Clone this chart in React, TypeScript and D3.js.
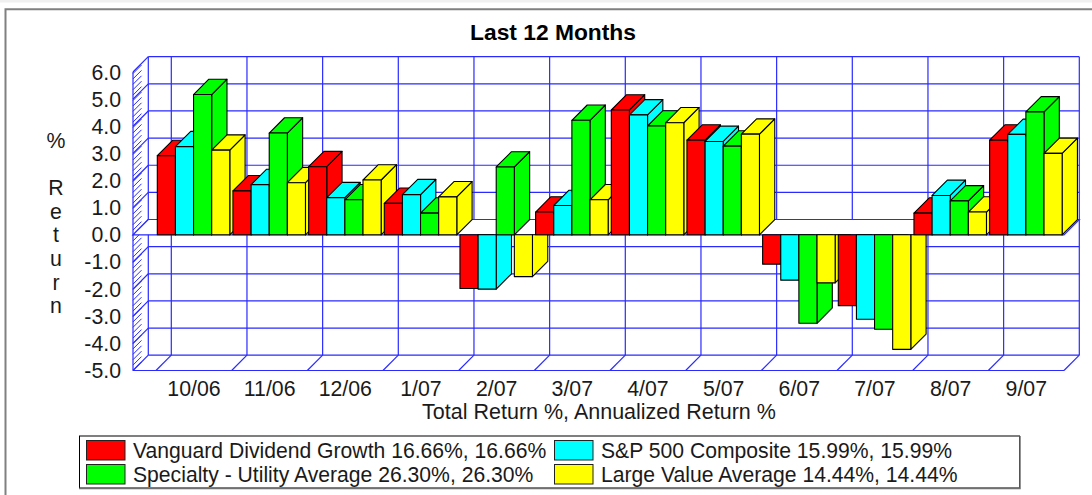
import * as d3 from 'd3';

const months = ['10/06', '11/06', '12/06', '1/07', '2/07', '3/07', '4/07', '5/07', '6/07', '7/07', '8/07', '9/07'];
const vanguard = [2.92, 1.62, 2.51, 1.16, -1.98, 0.84, 4.6, 3.49, -1.08, -2.61, 0.8, 3.49];
const sp500 = [3.25, 1.85, 1.37, 1.48, -2.0, 1.08, 4.42, 3.44, -1.67, -3.11, 1.45, 3.7];
const utility = [5.17, 3.75, 1.29, 0.8, 2.5, 4.22, 4.01, 3.27, -3.26, -3.48, 1.25, 4.53];
const largeValue = [3.12, 1.92, 2.02, 1.4, -1.54, 1.29, 4.13, 3.71, -1.77, -4.22, 0.84, 3.0];

const seriesNames = ['vanguard', 'sp500', 'utility', 'largeValue'];
const seriesValues = [vanguard, sp500, utility, largeValue];
const seriesColors = ['#ff0000', '#00ffff', '#00ff00', '#ffff00'];

const yTicks = [6, 5, 4, 3, 2, 1, 0, -1, -2, -3, -4, -5];
const yTitle = ['%', '', 'R', 'e', 't', 'u', 'r', 'n'];
const legendRows = [
  { label: 'Vanguard Dividend Growth 16.66%, 16.66%', color: '#ff0000', col: 0, row: 0 },
  { label: 'S&P 500 Composite 15.99%, 15.99%', color: '#00ffff', col: 1, row: 0 },
  { label: 'Specialty - Utility Average 26.30%, 26.30%', color: '#00ff00', col: 0, row: 1 },
  { label: 'Large Value Average 14.44%, 14.44%', color: '#ffff00', col: 1, row: 1 },
];

const FONT = '"Liberation Sans", Arial, sans-serif';
const GRID = '#2a2aff';
const DEPTH_X = 15.3;
const DEPTH_Y = 15.3;
const LEFT = 133;
const LABEL_SIZE = 21.3;
const LEGEND_SIZE = 21.15;

const y = d3.scaleLinear().domain([-5, 6]).range([370.5, 72]);
const x = d3.scaleBand<string>().domain(months).range([156, 1064]);
const inner = d3.scaleBand<string>().domain(seriesNames).range([1.3, 73.8]);

const poly = (pts: [number, number][]) => (d3.line()(pts) || '') + 'Z';

const Bar = ({ x0, w, value, fill }: { x0: number; w: number; value: number; fill: string }) => {
  const y0 = y(0);
  const yv = y(value);
  const top = Math.min(y0, yv);
  const bottom = Math.max(y0, yv);
  const dx = DEPTH_X;
  const dy = DEPTH_Y;
  // negative bars hang from the floor, so their side is cut flat at zero
  const sideTop = value > 0 ? top - dy : top;
  return (
    <g fill={fill} stroke="#000" strokeWidth={1.1} strokeLinejoin="round">
      <path d={poly([[x0 + w, top], [x0 + w + dx, sideTop], [x0 + w + dx, bottom - dy], [x0 + w, bottom]])} />
      {value > 0 && <path d={poly([[x0, top], [x0 + dx, top - dy], [x0 + w + dx, top - dy], [x0 + w, top]])} />}
      <rect x={x0} y={top} width={w} height={bottom - top} />
    </g>
  );
};

export default function App() {
  const right = x.range()[1];
  const hatch = d3.range(y(-5), y(6) + 1, -5.4);

  return (
    <svg
      width={1092}
      height={495}
      style={{ position: 'absolute', left: 0, top: 0, background: '#fff' }}
      fontFamily={FONT}
      fill="#1a1a1a"
    >
      <rect x={0} y={0} width={1092} height={2.5} fill="#f0f0f0" />
      <path d="M1092,9.2H5.5V495" fill="none" stroke="#808080" strokeWidth={2} />

      <text x={553} y={40} textAnchor="middle" fontSize={22.8} fontWeight={700} fill="#000">Last 12 Months</text>

      {/* back wall */}
      <g stroke={GRID} strokeWidth={1.2} fill="none">
        {yTicks.map(t => (
          <g key={t}>
            <line x1={LEFT} x2={LEFT + DEPTH_X} y1={y(t)} y2={y(t) - DEPTH_Y} />
            <line x1={LEFT + DEPTH_X} x2={right + DEPTH_X} y1={y(t) - DEPTH_Y} y2={y(t) - DEPTH_Y} />
          </g>
        ))}
        <line x1={LEFT + DEPTH_X} x2={LEFT + DEPTH_X} y1={y(6) - DEPTH_Y} y2={y(-5) - DEPTH_Y} />
        {months.map(m => (
          <g key={m}>
            <line x1={x(m)! + DEPTH_X} x2={x(m)! + DEPTH_X} y1={y(6) - DEPTH_Y} y2={y(-5) - DEPTH_Y} />
            <line x1={x(m)!} x2={x(m)! + DEPTH_X} y1={y(-5)} y2={y(-5) - DEPTH_Y} />
          </g>
        ))}
        <line x1={right + DEPTH_X} x2={right + DEPTH_X} y1={y(6) - DEPTH_Y} y2={y(-5) - DEPTH_Y} />
        <line x1={right} x2={right + DEPTH_X} y1={y(-5)} y2={y(-5) - DEPTH_Y} />
        <line x1={LEFT} x2={right} y1={y(-5)} y2={y(-5)} />
        <line x1={LEFT} x2={LEFT} y1={y(6)} y2={y(-5)} />
        {hatch.map(h => (
          <line key={h} x1={LEFT} x2={LEFT + 8.5} y1={h} y2={h - 8.5} strokeWidth={1} />
        ))}
      </g>

      {/* floor at zero */}
      <path
        d={poly([[LEFT, y(0)], [LEFT + DEPTH_X, y(0) - DEPTH_Y], [right + DEPTH_X, y(0) - DEPTH_Y], [right, y(0)]])}
        fill="#fff"
        stroke={GRID}
        strokeWidth={1.2}
      />

      {months.map((m, i) => (
        <g key={m}>
          {seriesNames.map((s, k) => (
            <Bar key={s} x0={x(m)! + inner(s)!} w={inner.bandwidth()} value={seriesValues[k][i]} fill={seriesColors[k]} />
          ))}
        </g>
      ))}

      {yTicks.map(t => (
        <text key={t} x={121} y={y(t) + 7.5} textAnchor="end" fontSize={LABEL_SIZE}>{t.toFixed(1)}</text>
      ))}
      {yTitle.map((c, i) => (
        <text key={i} x={56} y={147.5 + i * 23.7} textAnchor="middle" fontSize={LABEL_SIZE}>{c}</text>
      ))}
      {months.map(m => (
        <text key={m} x={x(m)! + 38} y={396} textAnchor="middle" fontSize={LABEL_SIZE}>{m}</text>
      ))}
      <text x={599} y={419} textAnchor="middle" fontSize={21.5}>Total Return %, Annualized Return %</text>

      <rect x={79.5} y={436} width={940} height={52} fill="#fff" stroke="#000" strokeWidth={1} />
      <path d="M1020,436V488.5H79" fill="none" stroke="#707070" strokeWidth={1.5} />
      {legendRows.map(r => {
        const sx = r.col === 0 ? 86.5 : 554.5;
        const sy = 440.5 + r.row * 24;
        return (
          <g key={r.label}>
            <rect x={sx} y={sy} width={38.5} height={19.5} fill={r.color} stroke="#222" strokeWidth={1} />
            <text x={sx + 46.5} y={sy + 17} fontSize={LEGEND_SIZE}>{r.label}</text>
          </g>
        );
      })}
    </svg>
  );
}
